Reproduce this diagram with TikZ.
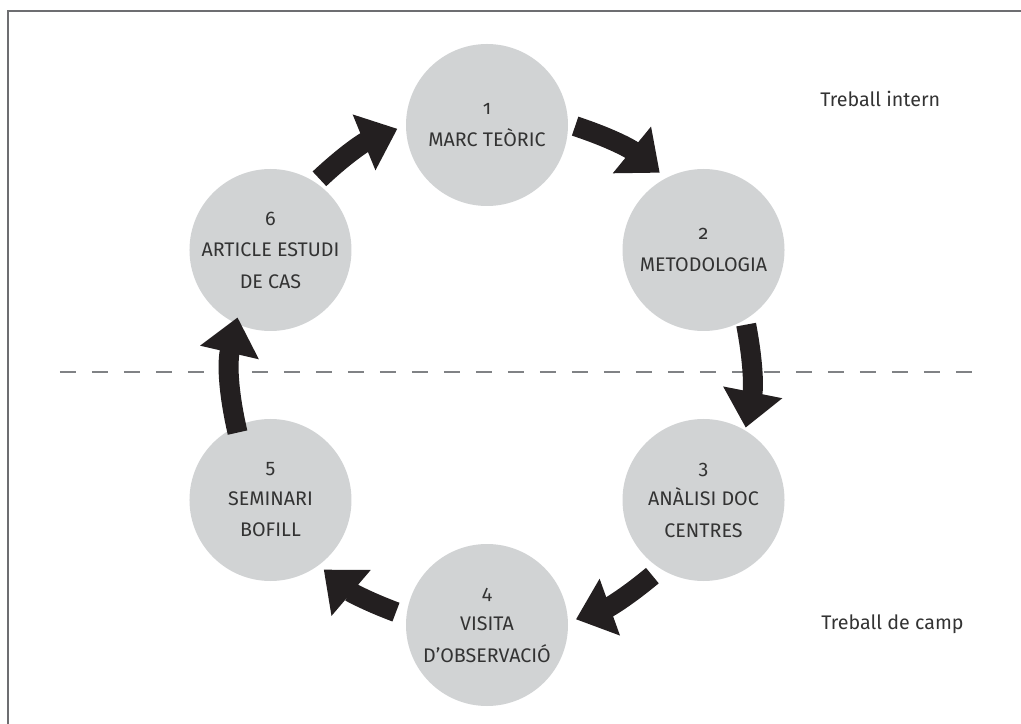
\documentclass[tikz,border=0pt]{standalone}
\usepackage{fontspec}
\setmainfont{Fira Sans}[Numbers=OldStyle]
\usepackage{tikz}
\usetikzlibrary{arrows.meta,positioning}
\definecolor{stagegray}{HTML}{D1D3D4}
\definecolor{inkgray}{HTML}{333333}
\definecolor{arrowblack}{HTML}{231F20}
\definecolor{framegray}{HTML}{6D6E71}
\definecolor{dashgray}{HTML}{808285}

\begin{document}
\begin{tikzpicture}[
  stage/.style={circle,fill=stagegray,minimum size=4.05cm,inner sep=0pt,align=center,text=inkgray,font=\fontsize{14}{22.4}\selectfont},
  zone/.style={anchor=base west,inner sep=0pt,text=inkgray,font=\fontsize{14}{17}\selectfont},
  arr/.style={-{Triangle[length=0.9cm,width=1.45cm]},line width=0.5cm,draw=arrowblack},
  frame/.style={draw=framegray,line width=1.6pt},
  divide/.style={draw=dashgray,line width=1.8pt,dash pattern=on 0.4cm off 0.4cm}
]
\useasboundingbox (-12.175,-8.7) rectangle (13.35,9.375);
\draw[frame] (-11.975,-8.8) |- (13.45,9.1);
\draw[divide] (-10.675,0.08) -- (12.45,0.08);
% stages on the cycle
\node[stage] (s1) at (90:6.25) {1\\MARC TEÒRIC};
\node[stage] (s2) at (30:6.25) {2\\METODOLOGIA};
\node[stage] (s3) at (-30:6.25) {3\\ANÀLISI DOC\\CENTRES};
\node[stage] (s4) at (-90:6.25) {4\\VISITA\\D’OBSERVACIÓ};
\node[stage] (s5) at (-150:6.25) {5\\SEMINARI\\BOFILL};
\node[stage] (s6) at (150:6.25) {6\\ARTICLE ESTUDI\\DE CAS};
\node[zone] (intern) at (8.325,6.7) {Treball intern};
\node[zone] (camp) at (8.35,-6.35) {Treball de camp};
% arrow ends
\coordinate (t12) at (70.5:6.6);  \coordinate (h12) at (49.5:6.65);
\coordinate (t23) at (11:6.6);    \coordinate (h23) at (-11.5:6.6);
\coordinate (t34) at (-50.5:6.5); \coordinate (h34) at (-70:6.5);
\coordinate (t45) at (-111:6.35); \coordinate (h45) at (-130:6.35);
\coordinate (t56) at (-167:6.4);  \coordinate (h56) at (167:6.4);
\coordinate (t61) at (130.5:6.45);\coordinate (h61) at (110:6.55);
\draw[arr] (t12) to[bend left=10.5] (h12);
\draw[arr] (t23) to[bend left=11] (h23);
\draw[arr] (t34) to[bend left=10] (h34);
\draw[arr] (t45) to[bend left=10] (h45);
\draw[arr] (t56) to[bend left=13] (h56);
\draw[arr] (t61) to[bend left=10.5] (h61);
\end{tikzpicture}
\end{document}
